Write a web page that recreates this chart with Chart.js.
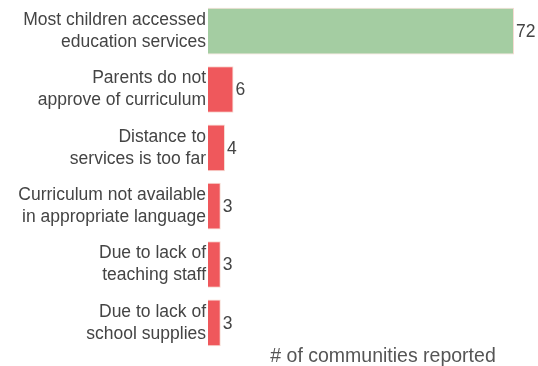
<!DOCTYPE html>
<html>
<head>
<meta charset="utf-8">
<script src="https://cdn.jsdelivr.net/npm/chart.js@4"></script>
<style>
  html, body { margin: 0; padding: 0; background: #fff; overflow: hidden; }
</style>
</head>
<body>
<canvas id="grafico" width="538" height="366"></canvas>
<script>
// dados do grafico
const categorias = [
    ['Most children accessed', 'education services'],
    ['Parents do not', 'approve of curriculum'],
    ['Distance to', 'services is too far'],
    ['Curriculum not available', 'in appropriate language'],
    ['Due to lack of', 'teaching staff'],
    ['Due to lack of', 'school supplies']
];
const valores = [72, 6, 4, 3, 3, 3];
const cores = ['#a4cda2', '#ef585c', '#ef585c', '#ef585c', '#ef585c', '#ef585c'];
const tituloEixo = '# of communities reported';

const fonte = '"Liberation Sans", Arial, sans-serif';

// escreve o valor do lado de cada barra + titulo do eixo
const rotulos = {
    id: 'rotulos',
    afterDatasetsDraw(chart) {
        const ctx = chart.ctx;
        const meta = chart.getDatasetMeta(0);
        ctx.save();
        ctx.font = '17.5px ' + fonte;
        ctx.fillStyle = '#444';
        ctx.textBaseline = 'middle';
        ctx.textAlign = 'left';
        meta.data.forEach((bar, i) => {
            ctx.fillText(valores[i], bar.x + 2, bar.y + 1);
        });
        // titulo do eixo x
        const area = chart.chartArea;
        ctx.font = '19.5px ' + fonte;
        ctx.fillStyle = '#555';
        ctx.textAlign = 'center';
        ctx.textBaseline = 'alphabetic';
        ctx.fillText(tituloEixo, (area.left + area.right) / 2 + 22, 362);
        ctx.restore();
    }
};

var ctx = document.getElementById('grafico').getContext('2d');
var grafico = new Chart(ctx, {
    type: 'bar',
    data: {
        labels: categorias,
        datasets: [{
            data: valores,
            backgroundColor: cores,
            borderColor: 'rgba(245, 215, 205, 0.9)',
            borderWidth: 1,
            categoryPercentage: 0.8,
            barPercentage: 1
        }]
    },
    options: {
        indexAxis: 'y',
        responsive: false,
        animation: false,
        maintainAspectRatio: false,
        layout: { padding: { top: 2, right: 24, bottom: 14, left: 0 } },
        plugins: {
            legend: { display: false },
            tooltip: { enabled: false }
        },
        scales: {
            x: {
                display: false,
                min: 0,
                max: 72
            },
            y: {
                grid: { display: false, drawTicks: false, tickLength: 0 },
                border: { display: false },
                ticks: {
                    color: '#444',
                    padding: 2,
                    font: { family: fonte, size: 17.5, lineHeight: 1.24 }
                },
                afterFit(scale) {
                    scale.width = 208;
                    scale.paddingTop = 0;
                    scale.paddingBottom = 0;
                }
            }
        }
    },
    plugins: [rotulos]
});
</script>
</body>
</html>
